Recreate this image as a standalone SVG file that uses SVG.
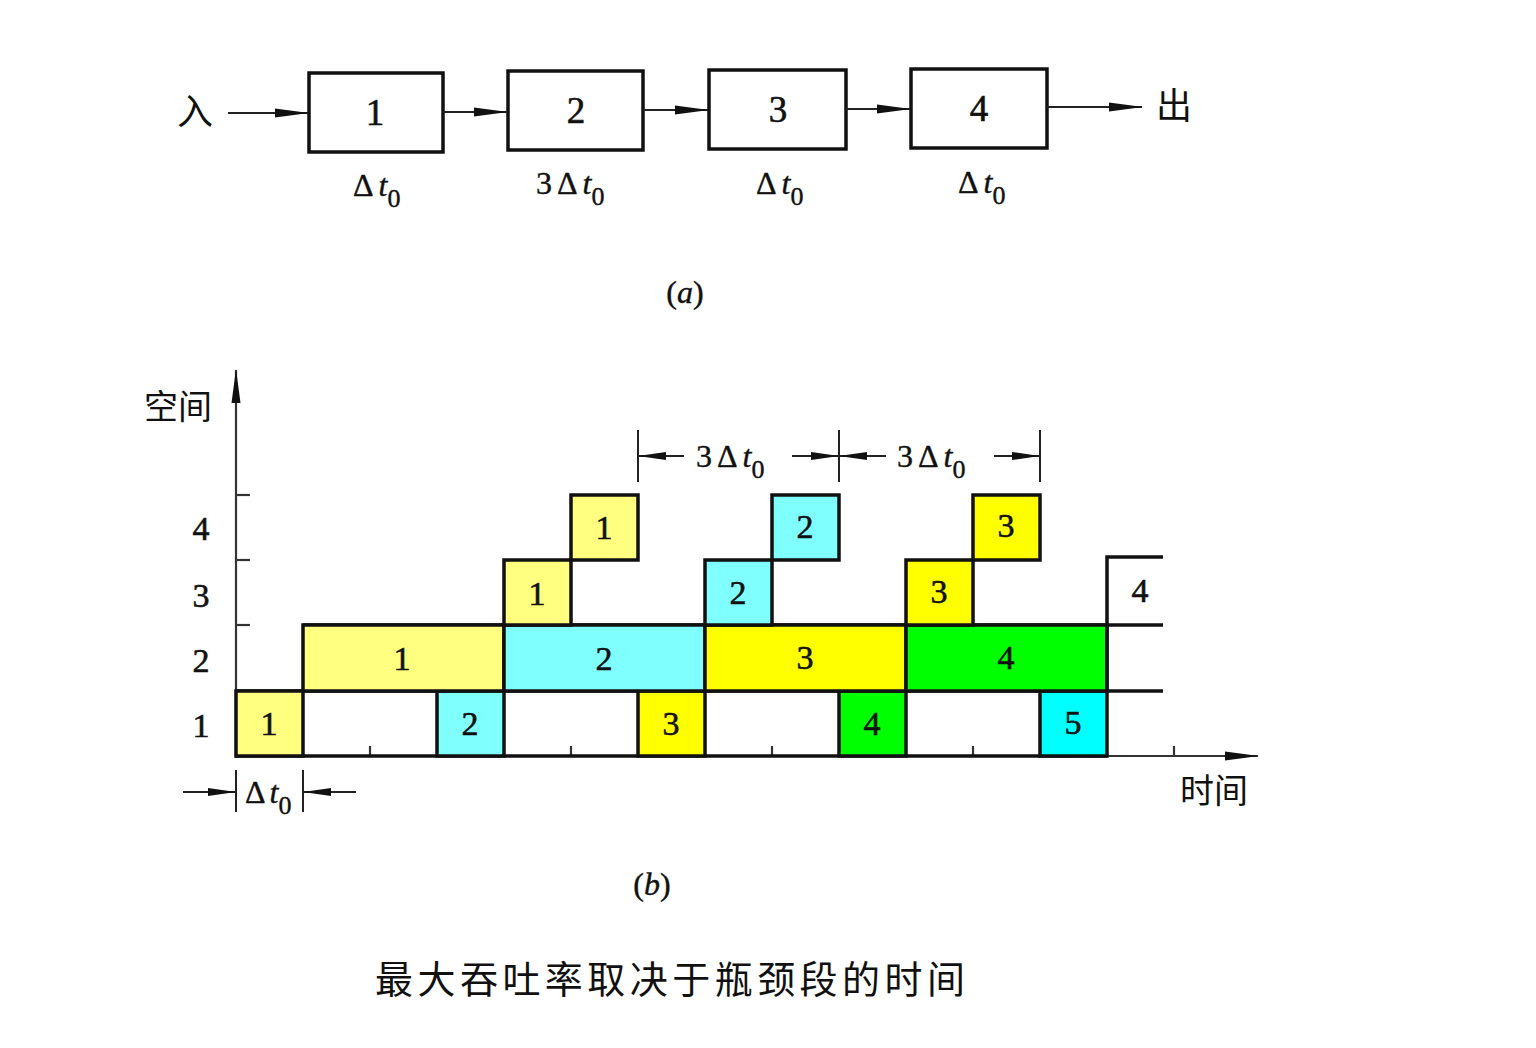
<svg xmlns="http://www.w3.org/2000/svg" width="1536" height="1048" viewBox="0 0 1536 1048">
<defs>
<style>
.bg{fill:#ffffff}
.box{fill:#ffffff;stroke:#111;stroke-width:3.5}
.cell{stroke:#111;stroke-width:3.5}
.ly{fill:#ffff80}
.lc{fill:#80ffff}
.ye{fill:#ffff00}
.gr{fill:#00ff00}
.cy{fill:#00ffff}
.ln{stroke:#111;stroke-width:3.5;fill:none}
.ax{stroke:#333;stroke-width:2.2;fill:none}
.thin{stroke:#222;stroke-width:2;fill:none}
.num{font-family:"Liberation Serif","DejaVu Serif",serif;font-size:34px;text-anchor:middle;fill:#111;stroke:#111;stroke-width:0.6}
.big{font-size:37px}
.lbl{font-family:"Liberation Serif","DejaVu Serif",serif;font-size:32px;fill:#111;stroke:#111;stroke-width:0.4}
.it{font-style:italic}
.cjk{font-family:"Noto Sans CJK SC","Noto Sans CJK JP",sans-serif;fill:#111}
</style>
<marker id="ah" markerWidth="34" markerHeight="12" refX="33" refY="6" orient="auto" markerUnits="userSpaceOnUse">
<path d="M0,1.5 L34,6 L0,10.5 z" fill="#111"/>
</marker>
<marker id="ahs" markerWidth="28" markerHeight="10" refX="27" refY="5" orient="auto" markerUnits="userSpaceOnUse">
<path d="M0,1 L28,5 L0,9 z" fill="#111"/>
</marker>
</defs>
<rect class="bg" x="0" y="0" width="1536" height="1048"/>

<!-- (a) pipeline -->
<g id="label-in"><text class="cjk" x="177" y="125" font-size="36">入</text></g>
<g id="stage1"><rect class="box" x="309" y="73" width="134" height="79"/><text class="num big" x="375" y="125">1</text>
<text class="lbl" x="353" y="196">Δ<tspan class="it" dx="5">t</tspan><tspan dy="11" font-size="26">0</tspan></text></g>
<g id="stage2"><rect class="box" x="508" y="71" width="135" height="79"/><text class="num big" x="576" y="123">2</text>
<text class="lbl" x="536" y="194">3<tspan dx="5">Δ</tspan><tspan class="it" dx="5">t</tspan><tspan dy="11" font-size="26">0</tspan></text></g>
<g id="stage3"><rect class="box" x="709" y="70" width="137" height="79"/><text class="num big" x="778" y="122">3</text>
<text class="lbl" x="756" y="194">Δ<tspan class="it" dx="5">t</tspan><tspan dy="11" font-size="26">0</tspan></text></g>
<g id="stage4"><rect class="box" x="911" y="69" width="136" height="79"/><text class="num big" x="979" y="121">4</text>
<text class="lbl" x="958" y="193">Δ<tspan class="it" dx="5">t</tspan><tspan dy="11" font-size="26">0</tspan></text></g>
<g id="label-out"><text class="cjk" x="1156" y="119" font-size="36">出</text></g>
<g id="caption-a"><text class="lbl" x="685" y="303" text-anchor="middle">(<tspan class="it">a</tspan>)</text></g>

<g id="connectors-a">
<line class="thin" x1="228" y1="113" x2="308" y2="113" marker-end="url(#ah)"/>
<line class="thin" x1="443" y1="112" x2="507" y2="112" marker-end="url(#ah)"/>
<line class="thin" x1="643" y1="110" x2="708" y2="110" marker-end="url(#ah)"/>
<line class="thin" x1="846" y1="109" x2="910" y2="109" marker-end="url(#ah)"/>
<line class="thin" x1="1047" y1="107" x2="1142" y2="107" marker-end="url(#ah)"/>
</g>

<!-- (b) space-time chart -->
<g id="axes">
<line class="ax" x1="236" y1="758" x2="236" y2="370" marker-end="url(#ah)"/>
<line class="ax" x1="236" y1="756" x2="1258" y2="756" marker-end="url(#ah)"/>
<line class="ax" x1="236" y1="495" x2="250" y2="495"/>
<line class="ax" x1="236" y1="560" x2="250" y2="560"/>
<line class="ax" x1="236" y1="625" x2="250" y2="625"/>
<line class="ax" x1="370" y1="756" x2="370" y2="746"/>
<line class="ax" x1="571" y1="756" x2="571" y2="746"/>
<line class="ax" x1="772" y1="756" x2="772" y2="746"/>
<line class="ax" x1="973" y1="756" x2="973" y2="746"/>
<line class="ax" x1="1174" y1="756" x2="1174" y2="746"/>
<text class="cjk" x="144" y="419" font-size="34">空间</text>
<text class="cjk" x="1180" y="803" font-size="34">时间</text>
<text class="num" x="201" y="540">4</text>
<text class="num" x="201" y="607">3</text>
<text class="num" x="201" y="672">2</text>
<text class="num" x="201" y="737">1</text>
</g>

<g id="grid-lines">
<line class="ln" x1="236" y1="691" x2="1163" y2="691"/>
<line class="ln" x1="303" y1="625" x2="1163" y2="625"/>
<line class="ln" x1="236" y1="756" x2="1107" y2="756"/>
</g>

<g id="row1">
<g id="r1-1"><rect class="cell ly" x="236" y="691" width="67" height="65"/><text class="num" x="269" y="735">1</text></g>
<g id="r1-2"><rect class="cell lc" x="437" y="691" width="67" height="65"/><text class="num" x="470" y="735">2</text></g>
<g id="r1-3"><rect class="cell ye" x="638" y="691" width="67" height="65"/><text class="num" x="671" y="735">3</text></g>
<g id="r1-4"><rect class="cell gr" x="839" y="691" width="67" height="65"/><text class="num" x="872" y="735">4</text></g>
<g id="r1-5"><rect class="cell cy" x="1040" y="691" width="67" height="65"/><text class="num" x="1073" y="734">5</text></g>
</g>
<g id="row2">
<g id="r2-1"><rect class="cell ly" x="303" y="625" width="201" height="66"/><text class="num" x="402" y="670">1</text></g>
<g id="r2-2"><rect class="cell lc" x="504" y="625" width="201" height="66"/><text class="num" x="604" y="670">2</text></g>
<g id="r2-3"><rect class="cell ye" x="705" y="625" width="201" height="66"/><text class="num" x="805" y="669">3</text></g>
<g id="r2-4"><rect class="cell gr" x="906" y="625" width="201" height="66"/><text class="num" x="1006" y="669">4</text></g>
</g>
<g id="row3">
<g id="r3-1"><rect class="cell ly" x="504" y="560" width="67" height="65"/><text class="num" x="537" y="605">1</text></g>
<g id="r3-2"><rect class="cell lc" x="705" y="560" width="67" height="65"/><text class="num" x="738" y="604">2</text></g>
<g id="r3-3"><rect class="cell ye" x="906" y="560" width="67" height="65"/><text class="num" x="939" y="603">3</text></g>
<g id="r3-4"><path class="ln" d="M1107,691 L1107,557 L1163,557"/><text class="num" x="1140" y="602">4</text></g>
</g>
<g id="row4">
<g id="r4-1"><rect class="cell ly" x="571" y="495" width="67" height="65"/><text class="num" x="604" y="539">1</text></g>
<g id="r4-2"><rect class="cell lc" x="772" y="495" width="67" height="65"/><text class="num" x="805" y="538">2</text></g>
<g id="r4-3"><rect class="cell ye" x="973" y="495" width="67" height="65"/><text class="num" x="1006" y="537">3</text></g>
</g>

<g id="dimensions">
<line class="thin" x1="638" y1="430" x2="638" y2="482"/>
<line class="thin" x1="839" y1="430" x2="839" y2="482"/>
<line class="thin" x1="1040" y1="430" x2="1040" y2="482"/>
<line class="thin" x1="684" y1="456" x2="639" y2="456" marker-end="url(#ahs)"/>
<line class="thin" x1="792" y1="456" x2="838" y2="456" marker-end="url(#ahs)"/>
<line class="thin" x1="886" y1="456" x2="840" y2="456" marker-end="url(#ahs)"/>
<line class="thin" x1="994" y1="456" x2="1039" y2="456" marker-end="url(#ahs)"/>
<text class="lbl" x="696" y="467">3<tspan dx="5">Δ</tspan><tspan class="it" dx="5">t</tspan><tspan dy="11" font-size="26">0</tspan></text>
<text class="lbl" x="897" y="467">3<tspan dx="5">Δ</tspan><tspan class="it" dx="5">t</tspan><tspan dy="11" font-size="26">0</tspan></text>
<line class="thin" x1="236" y1="770" x2="236" y2="812"/>
<line class="thin" x1="303" y1="770" x2="303" y2="812"/>
<line class="thin" x1="183" y1="792" x2="235" y2="792" marker-end="url(#ahs)"/>
<line class="thin" x1="356" y1="792" x2="304" y2="792" marker-end="url(#ahs)"/>
<text class="lbl" x="245" y="803">Δ<tspan class="it" dx="4">t</tspan><tspan dy="11" font-size="26">0</tspan></text>
</g>

<g id="caption-b"><text class="lbl" x="652" y="895" text-anchor="middle">(<tspan class="it">b</tspan>)</text></g>
<g id="caption"><text class="cjk" x="375" y="993" font-size="38" textLength="590" lengthAdjust="spacing">最大吞吐率取决于瓶颈段的时间</text></g>
</svg>
